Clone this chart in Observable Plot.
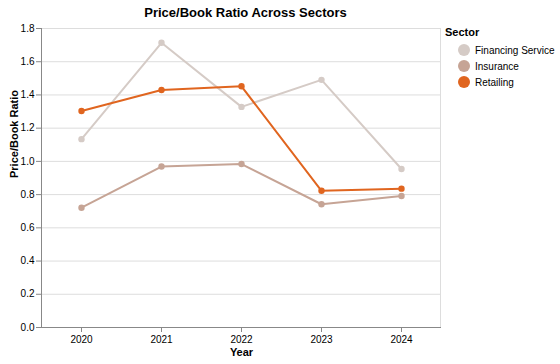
<!DOCTYPE html>
<html>
<head>
<meta charset="utf-8">
<script src="https://cdn.jsdelivr.net/npm/d3@7"></script>
<script src="https://cdn.jsdelivr.net/npm/@observablehq/plot@0.6"></script>
<style>
  html, body { margin: 0; padding: 0; background: #fff; }
  body { font-family: "Liberation Sans", Arial, Helvetica, sans-serif; }
  #wrap { position: relative; width: 560px; height: 364px; }
  #legend { position: absolute; left: 445px; top: 25px; font-size: 10px; color: #000; }
  #legend .ttl { font-weight: bold; font-size: 11px; margin-bottom: 3px; height: 14px; line-height: 14px; }
  #legend .row { display: flex; align-items: center; height: 16px; }
  #legend .sw { width: 12px; height: 12px; border-radius: 50%; margin-left: 13px; margin-right: 5px; }
</style>
</head>
<body>
<div id="wrap"></div>
<script>
const years = ["2020", "2021", "2022", "2023", "2024"];
const sectors = ["Financing Service", "Insurance", "Retailing"];
const colors = ["#d5cbc6", "#c6a495", "#e0651f"];
const financing = [1.134, 1.714, 1.328, 1.491, 0.954];
const insurance = [0.721, 0.969, 0.984, 0.742, 0.792];
const retailing = [1.303, 1.430, 1.452, 0.823, 0.836];
const yTicks = [0, 0.2, 0.4, 0.6, 0.8, 1.0, 1.2, 1.4, 1.6, 1.8];

const series = [financing, insurance, retailing];
const data = [];
sectors.forEach((s, i) => years.forEach((y, j) => data.push({sector: s, year: y, value: series[i][j]})));

const ml = 41, mr = 119, mt = 28, mb = 37, W = 560, H = 364;

const domainLines = (index, scales, values, dim) => {
  const g = d3.create("svg:g");
  g.append("line").attr("x1", dim.marginLeft + 0.5).attr("x2", dim.marginLeft + 0.5)
    .attr("y1", dim.marginTop).attr("y2", dim.height - dim.marginBottom)
    .attr("stroke", "#888");
  g.append("line").attr("x1", dim.marginLeft).attr("x2", dim.width - dim.marginRight)
    .attr("y1", dim.height - dim.marginBottom + 0.5).attr("y2", dim.height - dim.marginBottom + 0.5)
    .attr("stroke", "#888");
  g.append("line").attr("x1", dim.width - dim.marginRight - 0.5).attr("x2", dim.width - dim.marginRight - 0.5)
    .attr("y1", dim.marginTop).attr("y2", dim.height - dim.marginBottom)
    .attr("stroke", "#ddd");
  return g.node();
};

const chart = Plot.plot({
  width: W, height: H,
  marginLeft: ml, marginRight: mr, marginTop: mt, marginBottom: mb,
  style: {fontFamily: '"Liberation Sans", Arial, Helvetica, sans-serif', fontSize: "10px", color: "#000", background: "#fff"},
  x: {type: "point", domain: years, padding: 0.5},
  y: {domain: [0, 1.8]},
  color: {domain: sectors, range: colors},
  marks: [
    Plot.ruleY(yTicks, {stroke: "#ddd", strokeWidth: 1}),
    domainLines,
    Plot.axisY({ticks: yTicks, tickFormat: d3.format(".1f"), tickSize: 5, tickPadding: 2, stroke: "#888", fill: "#000", label: null, fontSize: 10}),
    Plot.axisX({tickSize: 5, tickPadding: 3, stroke: "#888", fill: "#000", label: null, fontSize: 10}),
    Plot.lineY(data, {x: "year", y: "value", stroke: "sector", z: "sector", strokeWidth: 2, curve: "linear"}),
    Plot.dot(data, {x: "year", y: "value", fill: "sector", r: 3.2, stroke: null}),
    Plot.text(["Year"], {frameAnchor: "bottom", dy: 28, fontWeight: "bold", fontSize: 11, fill: "#000"}),
    Plot.text(["Price/Book Ratio"], {frameAnchor: "left", dx: -27, rotate: -90, fontWeight: "bold", fontSize: 11, fill: "#000"}),
    Plot.text(["Price/Book Ratio Across Sectors"], {frameAnchor: "top", dy: -21, dx: 4, fontWeight: "bold", fontSize: 13, fill: "#000"})
  ]
});

const wrap = document.getElementById("wrap");
wrap.appendChild(chart);

const legend = document.createElement("div");
legend.id = "legend";
let html = '<div class="ttl">Sector</div>';
sectors.forEach((s, i) => {
  html += `<div class="row"><span class="sw" style="background:${colors[i]}"></span><span>${s}</span></div>`;
});
legend.innerHTML = html;
wrap.appendChild(legend);
</script>
</body>
</html>
